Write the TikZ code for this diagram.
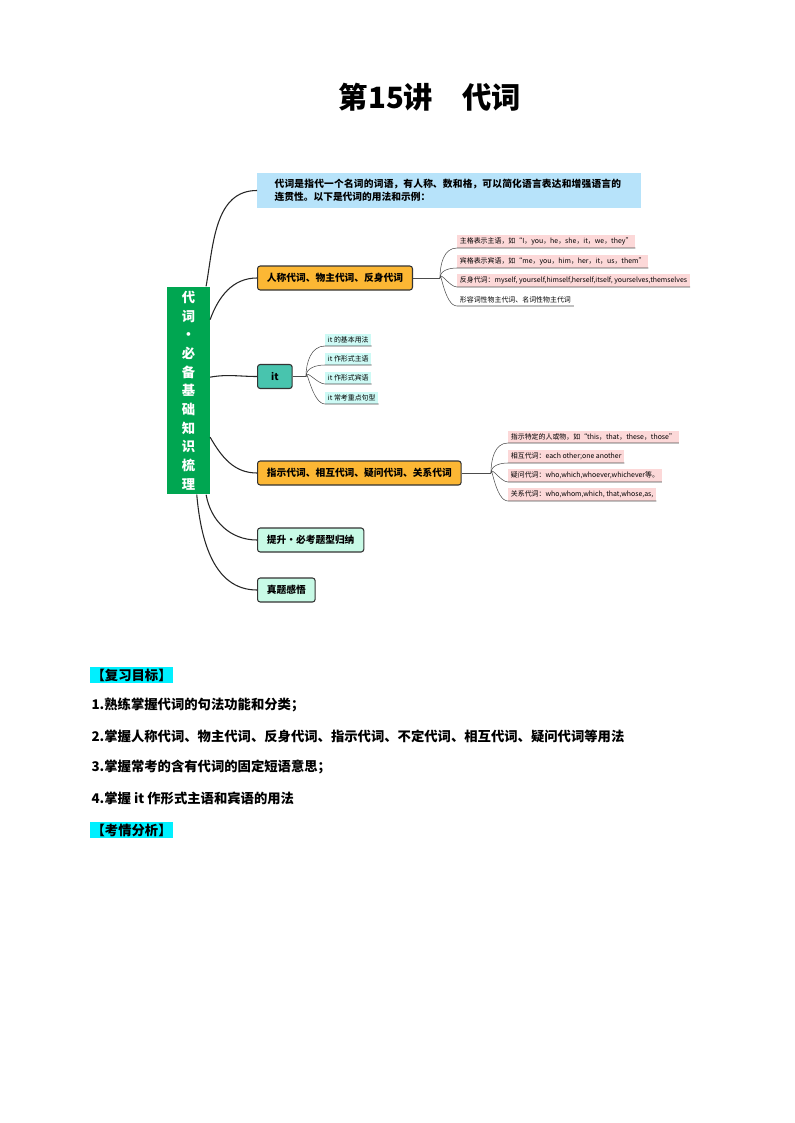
\documentclass[tikz,border=0pt]{standalone}
\usepackage{fontspec}
\usepackage{xcolor}
\newfontfamily\cjk{Noto Sans CJK SC}
\XeTeXlinebreaklocale "zh"
\XeTeXlinebreakskip=0pt plus 1pt
\definecolor{rootgreen}{RGB}{0,166,81}
\definecolor{introblue}{RGB}{183,227,250}
\definecolor{boxorange}{RGB}{252,183,52}
\definecolor{itteal}{RGB}{72,196,174}
\definecolor{mint}{RGB}{200,250,230}
\definecolor{subpink}{RGB}{252,216,216}
\definecolor{subcyan}{RGB}{205,250,245}
\definecolor{hlcyan}{RGB}{0,240,255}
\tikzset{
  main/.style={draw=black!80, thick, rounded corners=2pt, anchor=west, inner xsep=7pt, inner ysep=4pt,
    font=\cjk\bfseries\fontsize{7.3}{8}\selectfont, minimum height=18pt},
  sub/.style={anchor=south west, inner sep=2pt, font=\cjk\fontsize{5.2}{6}\selectfont,
    minimum height=9pt},
  link/.style={draw=black!85, thick},
  sublink/.style={draw=black!70, thin},
}
\begin{document}
\begin{tikzpicture}[x=0.75pt, y=-0.75pt]
        \useasboundingbox (0,0) rectangle (794,1123);

        \node[font=\cjk\bfseries\fontsize{22}{24}\selectfont] (title) at (430,97) {第15讲\quad 代词};

        % root and main branches
        \node[fill=rootgreen, minimum width=32pt, minimum height=150pt, text width=10pt, align=center,
            text=white, font=\cjk\bfseries\fontsize{10}{14}\selectfont] (root) at (188.5,390.5)
            {代\\词\\•\\必\\备\\基\\础\\知\\识\\梳\\理};
        \node[fill=introblue, anchor=west, minimum width=288pt, minimum height=26pt, text width=262pt,
            align=left, font=\cjk\bfseries\fontsize{7.3}{10}\selectfont] (intro) at (257,190.5)
            {代词是指代一个名词的词语，有人称、数和格，可以简化语言表达和增强语言的连贯性。以下是代词的用法和示例：};
        \node[main, fill=boxorange] (pers) at (257,278) {人称代词、物主代词、反身代词};
        \node[main, fill=itteal, minimum width=26pt] (itn) at (257,376.5) {it};
        \node[main, fill=boxorange] (demo) at (257,473) {指示代词、相互代词、疑问代词、关系代词};
        \node[main, fill=mint] (tisheng) at (257,540) {提升•必考题型归纳};
        \node[main, fill=mint] (zhenti) at (257,590) {真题感悟};

        \draw[link] (root.north east) ++(-4,0) to[out=80, in=180] (intro.west);
        \draw[link] ([yshift=-25pt]root.north east) to[out=70, in=180] (pers.west);
        \draw[link] ([yshift=10pt]root.east) to[out=10, in=180] (itn.west);
        \draw[link] ([yshift=-35pt]root.east) to[out=-60, in=180] (demo.west);
        \draw[link] (root.south east) ++(-4,0) to[out=-80, in=180] (tisheng.west);
        \draw[link] ([xshift=-10pt]root.south east) to[out=-85, in=180] (zhenti.west);

        % personal pronouns
        \node[sub, fill=subpink] (p1) at (457,248) {主格表示主语，如“I，you，he，she，it，we，they”};
        \node[sub, fill=subpink] (p2) at (457,268) {宾格表示宾语，如“me，you，him，her，it，us，them”};
        \node[sub, fill=subpink] (p3) at (457,287) {反身代词：myself, yourself,himself,herself,itself, yourselves,themselves};
        \node[sub] (p4) at (457,306) {形容词性物主代词、名词性物主代词};
        \coordinate (pf) at (440,278);
        \draw[sublink] (pers.east) -- (pf);
        \foreach \s in {p1,p2,p3,p4}
            \draw[sublink] (pf) to[out=90, in=180] (\s.south west) -- (\s.south east);

        % it
        \node[sub, fill=subcyan] (i1) at (325,346) {it 的基本用法};
        \node[sub, fill=subcyan] (i2) at (325,365) {it 作形式主语};
        \node[sub, fill=subcyan] (i3) at (325,384) {it 作形式宾语};
        \node[sub, fill=subcyan] (i4) at (325,404) {it 常考重点句型};
        \coordinate (itf) at (306,376.5);
        \draw[sublink] (itn.east) -- (itf);
        \foreach \s in {i1,i2,i3,i4}
            \draw[sublink] (itf) to[out=90, in=180] (\s.south west) -- (\s.south east);

        % demonstrative etc.
        \node[sub, fill=subpink] (d1) at (508,443) {指示特定的人或物，如“this，that，these，those”};
        \node[sub, fill=subpink] (d2) at (508,463) {相互代词：each other;one another};
        \node[sub, fill=subpink] (d3) at (508,482) {疑问代词：who,which,whoever,whichever等。};
        \node[sub, fill=subpink] (d4) at (508,501) {关系代词：who,whom,which, that,whose,as,};
        \coordinate (df) at (491,473);
        \draw[sublink] (demo.east) -- (df);
        \foreach \s in {d1,d2,d3,d4}
            \draw[sublink] (df) to[out=90, in=180] (\s.south west) -- (\s.south east);

        % goals
        \begin{scope}[every node/.style={anchor=west, inner sep=1pt, font=\cjk\bfseries\fontsize{10}{12}\selectfont}]
            \node[fill=hlcyan] (goal) at (90,675) {【复习目标】};
            \node (g1) at (90,705) {1.熟练掌握代词的句法功能和分类；};
            \node (g2) at (90,736) {2.掌握人称代词、物主代词、反身代词、指示代词、不定代词、相互代词、疑问代词等用法};
            \node (g3) at (90,767) {3.掌握常考的含有代词的固定短语意思；};
            \node (g4) at (90,798) {4.掌握 it 作形式主语和宾语的用法};
            \node[fill=hlcyan] (exam) at (90,830) {【考情分析】};
        \end{scope}
    \end{tikzpicture}
\end{document}
